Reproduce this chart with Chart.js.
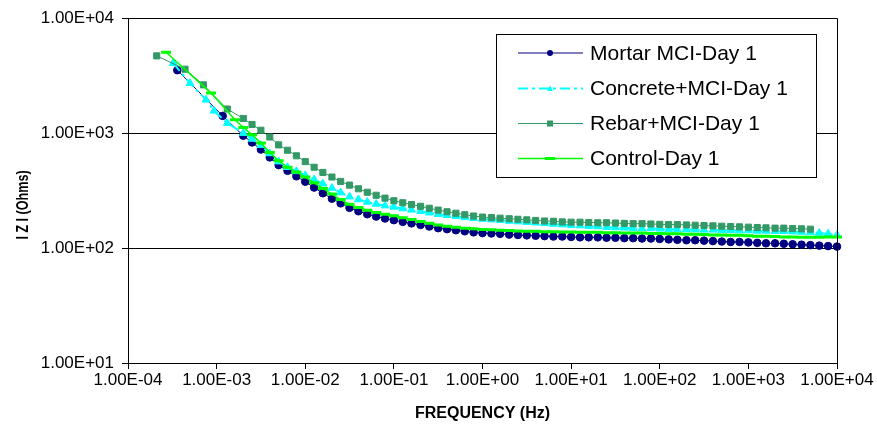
<!DOCTYPE html>
<html>
<head>
<meta charset="utf-8">
<script src="https://cdn.jsdelivr.net/npm/chart.js@4.4.1/dist/chart.umd.min.js"></script>
<style>
  html, body { margin: 0; padding: 0; background: #fff; }
  #wrap { width: 877px; height: 430px; }
</style>
</head>
<body>
<div id="wrap"><canvas id="impedanceChart" width="877" height="430"></canvas></div>
<script>
// Axis ticks
const xTickValues = [1e-4, 1e-3, 1e-2, 1e-1, 1e0, 1e1, 1e2, 1e3, 1e4];
const xTickLabels = ['1.00E-04', '1.00E-03', '1.00E-02', '1.00E-01', '1.00E+00', '1.00E+01', '1.00E+02', '1.00E+03', '1.00E+04'];
const yTickValues = [1e1, 1e2, 1e3, 1e4];
const yTickLabels = ['1.00E+01', '1.00E+02', '1.00E+03', '1.00E+04'];

const seriesNames = ['Mortar MCI-Day 1', 'Concrete+MCI-Day 1', 'Rebar+MCI-Day 1', 'Control-Day 1'];

// Frequencies (Hz) shared by the dense part of every sweep
const denseFreq = [
    2.00e-3, 2.51e-3, 3.16e-3, 3.98e-3, 5.01e-3, 6.31e-3, 7.94e-3,
    1.00e-2, 1.26e-2, 1.58e-2, 2.00e-2, 2.51e-2, 3.16e-2, 3.98e-2, 5.01e-2, 6.31e-2, 7.94e-2,
    1.00e-1, 1.26e-1, 1.58e-1, 2.00e-1, 2.51e-1, 3.16e-1, 3.98e-1, 5.01e-1, 6.31e-1, 7.94e-1,
    1.00e0, 1.26e0, 1.58e0, 2.00e0, 2.51e0, 3.16e0, 3.98e0, 5.01e0, 6.31e0, 7.94e0,
    1.00e1, 1.26e1, 1.58e1, 2.00e1, 2.51e1, 3.16e1, 3.98e1, 5.01e1, 6.31e1, 7.94e1,
    1.00e2, 1.26e2, 1.58e2, 2.00e2, 2.51e2, 3.16e2, 3.98e2, 5.01e2, 6.31e2, 7.94e2,
    1.00e3, 1.26e3, 1.58e3, 2.00e3, 2.51e3, 3.16e3, 3.98e3, 5.01e3, 6.31e3, 7.94e3,
    1.00e4
];

// Low frequency points (sparse) for each sweep
const mortarHeadFreq = [3.6e-4, 1.17e-3];
const mortarHeadZ = [3530, 1413];
const concreteHeadFreq = [3.24e-4, 5.0e-4, 7.6e-4, 9.35e-4, 1.32e-3];
const concreteHeadZ = [4065, 2720, 1950, 1563, 1222];
const rebarHeadFreq = [2.11e-4, 4.4e-4, 7.1e-4, 1.32e-3];
const rebarHeadZ = [4700, 3600, 2630, 1620];
const controlHeadFreq = [2.69e-4, 8.65e-4, 1.61e-3];
const controlHeadZ = [5060, 2230, 1306];

// |Z| (Ohms) at denseFreq
const mortarZ = [
    950, 830, 720, 615, 527, 470, 421,
    378, 336, 300, 269, 245, 224, 209, 197, 188, 181,
    175, 169, 164, 159, 154, 149, 146, 143, 140, 137,
    135, 134, 133, 131, 130, 129, 128, 127, 126, 126,
    125, 124, 124, 124, 123, 123, 122, 122, 121, 121,
    120, 119, 118, 117, 117, 116, 115, 114, 113, 113,
    112, 111, 110, 110, 109, 108, 107, 106, 105, 104,
    103
];
const concreteZ = [
    1000, 890, 785, 665, 565, 505, 465,
    430, 395, 363, 333, 304, 280, 265, 252, 242, 234,
    228, 221, 215, 209, 203, 197, 193, 189, 185, 182,
    179, 177, 175, 172, 170, 168, 166, 164, 162, 160,
    158, 157, 155, 154, 152, 151, 150, 149, 148, 148,
    147, 146, 146, 145, 145, 144, 144, 143, 143, 142,
    142, 141, 141, 140, 140, 139, 138, 137, 135, 133,
    130
];
const rebarZ = [
    1340, 1190, 1060, 925, 790, 710, 635,
    565, 505, 455, 415, 380, 353, 328, 306, 288, 272,
    258, 248, 239, 231, 222, 214, 207, 201, 195, 190,
    186, 184, 182, 180, 178, 176, 174, 172, 171, 169,
    168, 168, 167, 166, 166, 165, 164, 163, 163, 162,
    161, 160, 160, 159, 158, 157, 156, 155, 154, 153,
    152, 151, 150, 149, 149, 148, 147, 146
];
const controlZ = [
    1120, 970, 820, 680, 575, 505, 458,
    415, 370, 330, 295, 264, 240, 225, 213, 204, 197,
    191, 184, 177, 170, 164, 159, 155, 152, 149, 147,
    145, 144, 143, 142, 141, 140, 140, 139, 139, 138,
    138, 137, 137, 137, 136, 136, 135, 135, 135, 134,
    134, 133, 133, 132, 132, 131, 130, 130, 129, 129,
    128, 127, 127, 126, 125, 125, 124, 124, 124, 125,
    125
];

const FONT = "'Liberation Sans', Arial, sans-serif";

function toPoints(headF, headZ, denseZ) {
    const pts = headF.map((f, i) => ({ x: f, y: headZ[i] }));
    denseZ.forEach((z, i) => pts.push({ x: denseFreq[i], y: z }));
    return pts;
}

const seriesStyles = [
    { color: '#000080', width: 1, dash: [], pointStyle: 'circle', radius: 3.8, pointBorder: 1, legendRadius: 3 },
    { color: '#00FFFF', width: 2, dash: [10, 4, 3, 4], pointStyle: 'triangle', radius: 4.5, pointBorder: 1, legendRadius: 3 },
    { color: '#339966', width: 1, dash: [], pointStyle: 'rect', radius: 4.3, pointBorder: 1, legendRadius: 3 },
    { color: '#00FF00', width: 1.5, dash: [], pointStyle: 'line', radius: 5, pointBorder: 3, legendRadius: 5 }
];

const seriesData = [
    toPoints(mortarHeadFreq, mortarHeadZ, mortarZ),
    toPoints(concreteHeadFreq, concreteHeadZ, concreteZ),
    toPoints(rebarHeadFreq, rebarHeadZ, rebarZ),
    toPoints(controlHeadFreq, controlHeadZ, controlZ)
];

// marker drawing for the legend
function drawMarker(ctx, style, x, y, r) {
    ctx.save();
    ctx.fillStyle = style.color;
    ctx.strokeStyle = style.color;
    ctx.setLineDash([]);
    ctx.beginPath();
    if (style.pointStyle === 'circle') {
        ctx.arc(x, y, r, 0, Math.PI * 2);
        ctx.fill();
    } else if (style.pointStyle === 'triangle') {
        ctx.moveTo(x, y - r);
        ctx.lineTo(x + r, y + r * 0.8);
        ctx.lineTo(x - r, y + r * 0.8);
        ctx.closePath();
        ctx.fill();
    } else if (style.pointStyle === 'rect') {
        ctx.rect(x - r, y - r, 2 * r, 2 * r);
        ctx.fill();
    } else {
        ctx.lineWidth = style.pointBorder;
        ctx.moveTo(x - r, y);
        ctx.lineTo(x + r, y);
        ctx.stroke();
    }
    ctx.restore();
}

const decorPlugin = {
    id: 'decor',
    afterDraw(chart) {
        const ctx = chart.ctx;
        const a = chart.chartArea;
        ctx.save();

        // plot area frame (top & right)
        ctx.strokeStyle = '#000';
        ctx.lineWidth = 1;
        ctx.beginPath();
        ctx.moveTo(Math.round(a.left) + 0.5, Math.round(a.top) + 0.5);
        ctx.lineTo(Math.round(a.right) + 0.5, Math.round(a.top) + 0.5);
        ctx.lineTo(Math.round(a.right) + 0.5, Math.round(a.bottom) + 0.5);
        ctx.stroke();

        // axis titles
        ctx.fillStyle = '#000';
        ctx.font = 'bold 16px ' + FONT;
        ctx.textAlign = 'center';
        ctx.textBaseline = 'middle';
        ctx.fillText('FREQUENCY (Hz)', (a.left + a.right) / 2, 414);

        ctx.save();
        ctx.translate(23, 205);
        ctx.rotate(-Math.PI / 2);
        ctx.scale(0.74, 1);
        ctx.font = 'bold 17px ' + FONT;
        ctx.fillText('I Z I (Ohms)', 0, 0);
        ctx.restore();

        // legend box
        const box = { x: 496.5, y: 34.5, w: 320, h: 143 };
        ctx.fillStyle = '#fff';
        ctx.fillRect(box.x, box.y, box.w, box.h);
        ctx.strokeStyle = '#000';
        ctx.lineWidth = 1;
        ctx.strokeRect(box.x, box.y, box.w, box.h);

        const rowY = [53, 88.5, 123.5, 158.5];
        ctx.font = '21px ' + FONT;
        ctx.textAlign = 'left';
        ctx.textBaseline = 'middle';
        seriesNames.forEach((name, i) => {
            const st = seriesStyles[i];
            const y = rowY[i];
            ctx.save();
            ctx.strokeStyle = st.color;
            ctx.lineWidth = st.width;
            ctx.setLineDash(st.dash);
            ctx.beginPath();
            ctx.moveTo(518, y);
            ctx.lineTo(583, y);
            ctx.stroke();
            ctx.restore();
            drawMarker(ctx, st, 550, y, st.legendRadius);
            ctx.fillStyle = '#000';
            ctx.fillText(name, 590, y + 1);
        });

        ctx.restore();
    }
};

function initializeChart() {
    const ctx = document.getElementById('impedanceChart').getContext('2d');
    const datasets = seriesNames.map((name, i) => {
        const st = seriesStyles[i];
        return {
            label: name,
            data: seriesData[i],
            borderColor: st.color,
            backgroundColor: st.color,
            borderWidth: st.width,
            borderDash: st.dash,
            pointStyle: st.pointStyle,
            pointRadius: st.radius,
            pointBorderWidth: st.pointBorder,
            pointBackgroundColor: st.color,
            pointBorderColor: st.color,
            pointHoverRadius: st.radius,
            tension: 0,
            fill: false,
            clip: 6,
            order: 4 - i
        };
    });

    return new Chart(ctx, {
        type: 'line',
        data: { datasets: datasets },
        options: {
            responsive: false,
            animation: false,
            devicePixelRatio: 1,
            layout: { padding: { top: 18, right: 40, left: 0, bottom: 0 } },
            plugins: {
                legend: { display: false },
                tooltip: { enabled: false },
                title: { display: false }
            },
            scales: {
                x: {
                    type: 'logarithmic',
                    position: 'bottom',
                    min: 1e-4,
                    max: 1e4,
                    afterBuildTicks: (scale) => { scale.ticks = xTickValues.map(v => ({ value: v })); },
                    afterFit: (scale) => { scale.height = 67; },
                    ticks: {
                        callback: (value, index) => xTickLabels[index],
                        font: { family: FONT, size: 17 },
                        color: '#000',
                        maxRotation: 0,
                        autoSkip: false,
                        padding: 1
                    },
                    grid: { drawOnChartArea: false, color: '#000', tickLength: 6, lineWidth: 1 },
                    border: { color: '#000', width: 1 }
                },
                y: {
                    type: 'logarithmic',
                    min: 10,
                    max: 1e4,
                    afterBuildTicks: (scale) => { scale.ticks = yTickValues.map(v => ({ value: v })); },
                    afterFit: (scale) => { scale.width = 128; },
                    ticks: {
                        callback: (value, index) => yTickLabels[index],
                        font: { family: FONT, size: 17 },
                        color: '#000',
                        autoSkip: false,
                        padding: 8
                    },
                    grid: { color: '#000', tickLength: 6, lineWidth: 1 },
                    border: { color: '#000', width: 1 }
                }
            }
        },
        plugins: [decorPlugin]
    });
}

initializeChart();
</script>
</body>
</html>
